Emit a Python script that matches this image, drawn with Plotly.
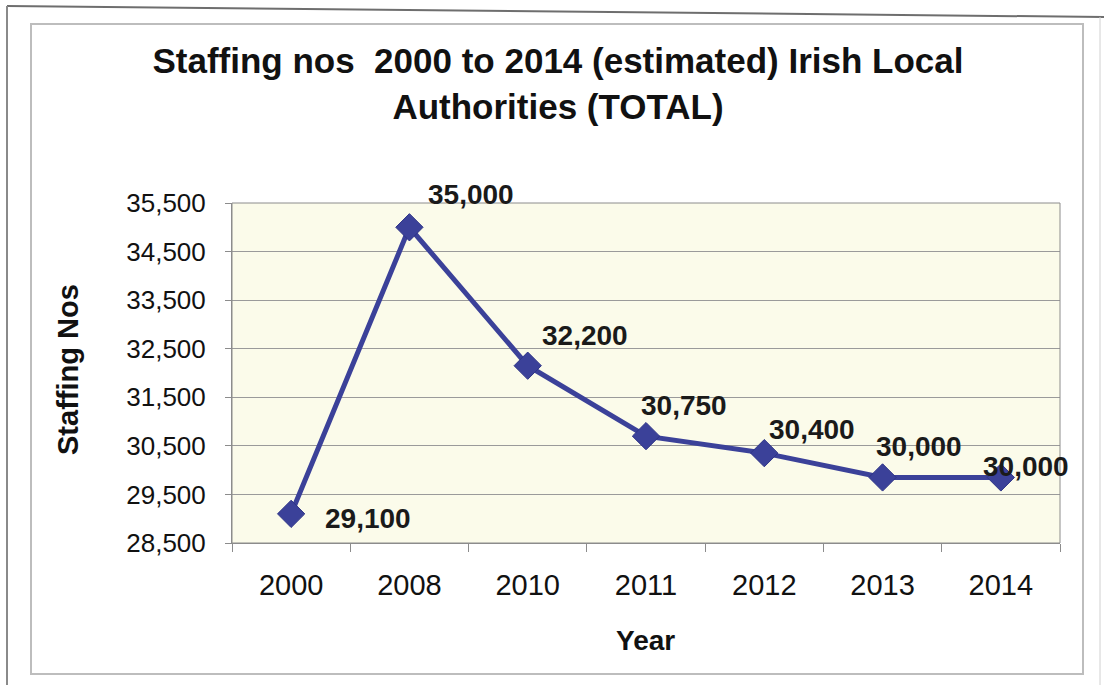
import plotly.graph_objects as go

# ---- data ----
years = ["2000", "2008", "2010", "2011", "2012", "2013", "2014"]
staff = [29100, 35000, 32150, 30700, 30350, 29850, 29850]
labels = ["29,100", "35,000", "32,200", "30,750", "30,400", "30,000", "30,000"]
y_ticks = [28500, 29500, 30500, 31500, 32500, 33500, 34500, 35500]
y_ticktext = ["28,500", "29,500", "30,500", "31,500", "32,500", "33,500", "34,500", "35,500"]

# label offsets (pixels) relative to each point: (xshift, yshift)
label_shift = [(32, -5), (17, 33), (12, 30), (-7, 31), (3, 24), (-9, 31), (-20, 11)]

W, H = 1104, 685
L, R, T, B = 232, 44, 203, 142
pw, ph = W - L - R, H - T - B

def px(x):
    return (x - L) / pw

def py(y):
    return (H - B - y) / ph

FONT = "Liberation Sans, Arial, sans-serif"

fig = go.Figure()
fig.add_trace(go.Scatter(
    x=years, y=staff, mode="lines+markers",
    line=dict(color="#3B4199", width=5),
    marker=dict(symbol="diamond", size=21, color="#3B4199",
                line=dict(color="#2E3487", width=1)),
    hoverinfo="x+y", showlegend=False,
))

annotations = []
for i, (v, lab, (dx, dy)) in enumerate(zip(staff, labels, label_shift)):
    annotations.append(dict(
        x=i, y=v, xref="x", yref="y", text="<b>" + lab + "</b>",
        showarrow=False, xanchor="left", yanchor="middle",
        xshift=dx, yshift=dy,
        font=dict(family=FONT, size=28, color="#1a1a1a"),
    ))

annotations.append(dict(
    x=px(68), y=py(370), xref="paper", yref="paper", text="<b>Staffing Nos</b>",
    textangle=-90, showarrow=False, xanchor="center", yanchor="middle",
    font=dict(family=FONT, size=29, color="#111"),
))
annotations.append(dict(
    x=px(645), y=py(640), xref="paper", yref="paper", text="<b>Year</b>",
    showarrow=False, xanchor="center", yanchor="middle",
    font=dict(family=FONT, size=28, color="#111"),
))

shapes = [
    # inner chart border
    dict(type="rect", xref="paper", yref="paper",
         x0=px(31), x1=px(1083), y0=py(24), y1=py(674),
         line=dict(color="#BDBDBD", width=2), layer="below"),
    # scanned page edges
    dict(type="line", xref="paper", yref="paper",
         x0=px(7), x1=px(1104), y0=py(6), y1=py(17),
         line=dict(color="#6E6E6E", width=2)),
    dict(type="line", xref="paper", yref="paper",
         x0=px(7), x1=px(7), y0=py(6), y1=py(685),
         line=dict(color="#8A8A8A", width=2)),
    dict(type="line", xref="paper", yref="paper",
         x0=px(1100), x1=px(1100), y0=py(17), y1=py(685),
         line=dict(color="#D0D0D0", width=1)),
    # plot area border
    dict(type="rect", xref="paper", yref="paper", x0=0, x1=1, y0=0, y1=1,
         line=dict(color="#8C8C8C", width=1), layer="above"),
]

fig.update_layout(
    width=W, height=H,
    margin=dict(l=L, r=R, t=T, b=B, autoexpand=False),
    paper_bgcolor="white", plot_bgcolor="#FBFBEA",
    title=dict(
        text="<b>Staffing nos  2000 to 2014 (estimated) Irish Local<br>Authorities (TOTAL)</b>",
        x=558 / W, xanchor="center", y=1 - 73 / H, yanchor="middle",
        yref="container", xref="container",
        font=dict(family=FONT, size=35, color="#111"),
    ),
    annotations=annotations,
    shapes=shapes,
    xaxis=dict(
        type="category", categoryorder="array", categoryarray=years,
        range=[-0.5, len(years) - 0.5],
        tickson="boundaries", ticks="outside", ticklen=8,
        tickcolor="#8C8C8C", showgrid=False, showline=True, linecolor="#8C8C8C",
        tickfont=dict(family=FONT, size=29, color="#111"),
        ticklabelstandoff=16, tickangle=0, fixedrange=True,
    ),
    yaxis=dict(
        range=[28500, 35500], tickvals=y_ticks, ticktext=y_ticktext,
        ticks="outside", ticklen=6, tickcolor="#8C8C8C",
        showgrid=True, gridcolor="#9A9A9A", gridwidth=1,
        showline=True, linecolor="#8C8C8C", zeroline=False,
        tickfont=dict(family=FONT, size=26, color="#111"),
        ticklabelstandoff=14, fixedrange=True,
    ),
)

fig.write_html("out.html", config={"displayModeBar": False},
               post_script="document.body.style.margin='0';")
